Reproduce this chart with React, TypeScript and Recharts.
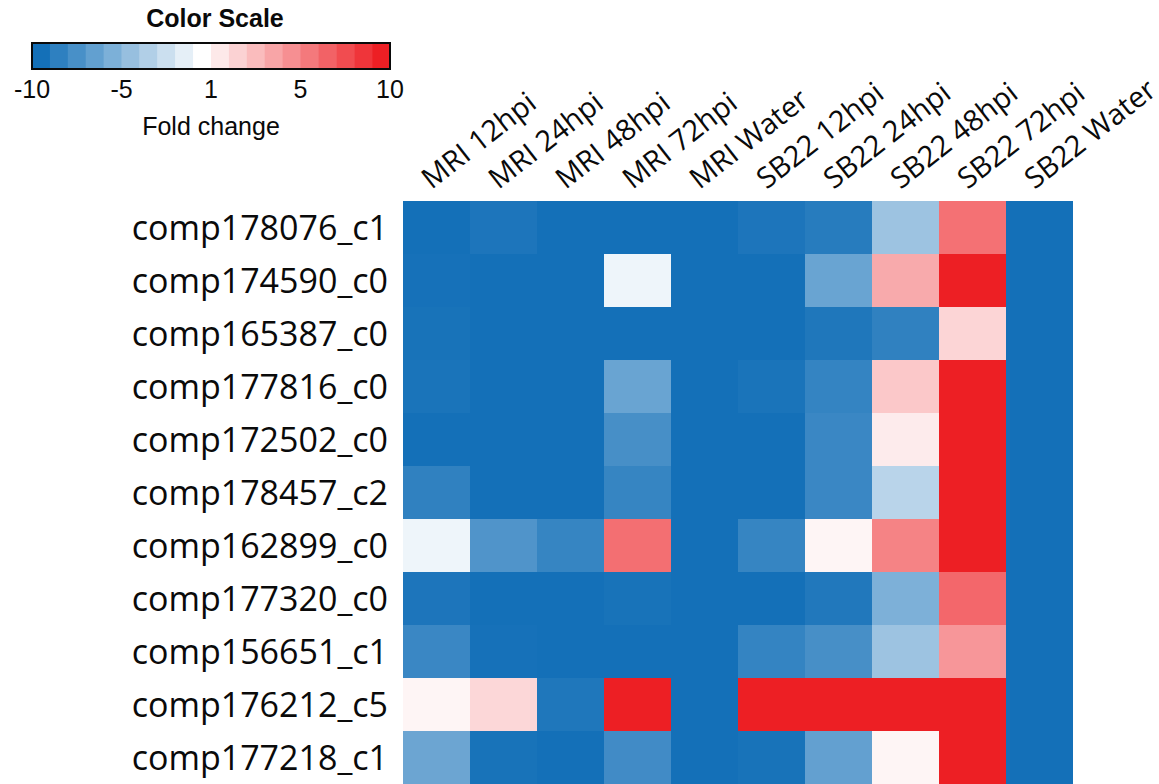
import { BarChart, Bar, Cell, XAxis, YAxis } from 'recharts';

const genes = [
  'comp178076_c1',
  'comp174590_c0',
  'comp165387_c0',
  'comp177816_c0',
  'comp172502_c0',
  'comp178457_c2',
  'comp162899_c0',
  'comp177320_c0',
  'comp156651_c1',
  'comp176212_c5',
  'comp177218_c1',
];

const conditions = [
  'MRI 12hpi',
  'MRI 24hpi',
  'MRI 48hpi',
  'MRI 72hpi',
  'MRI Water',
  'SB22 12hpi',
  'SB22 24hpi',
  'SB22 48hpi',
  'SB22 72hpi',
  'SB22 Water',
];

// fold change per condition, one value per gene (same order as genes)
const mri12 = [-10, -9.9, -9.8, -9.7, -10, -8.7, 0.2, -9.6, -8.2, 1.4, -5.9];
const mri24 = [-9.6, -10, -10, -10, -10, -10, -7.2, -10, -9.9, 2.6, -9.8];
const mri48 = [-10, -10, -10, -10, -10, -10, -8.4, -10, -10, -9.5, -10];
const mri72 = [-10, 0.2, -10, -6.0, -7.6, -8.4, 6.8, -9.8, -10, 10, -7.9];
const mriWater = [-10, -10, -10, -10, -10, -10, -10, -10, -10, -10, -10];
const sb12 = [-9.6, -10, -10, -9.7, -10, -10, -8.4, -10, -8.5, 10, -9.8];
const sb24 = [-9.1, -6.0, -9.5, -8.5, -8.2, -8.2, 1.4, -9.4, -7.6, 10, -6.3];
const sb48 = [-3.6, 4.4, -8.7, 3.2, 1.8, -2.3, 6.0, -5.1, -3.6, 10, 1.4];
const sb72 = [6.7, 10, 2.7, 10, 10, 10, 10, 7.1, 5.2, 10, 10];
const sbWater = [-10, -10, -10, -10, -10, -10, -10, -10, -10, -10, -10];

const series = [mri12, mri24, mri48, mri72, mriWater, sb12, sb24, sb48, sb72, sbWater];

const scaleTicks = ['-10', '-5', '1', '5', '10'];

const BLUE = [20, 112, 184];
const RED = [237, 31, 36];

function mix(c: number[], t: number) {
  const k = Math.max(0, Math.min(1, t));
  const ch = c.map((v) => Math.round(255 + (v - 255) * k));
  return `rgb(${ch[0]},${ch[1]},${ch[2]})`;
}

// -10 .. 1 .. 10  ->  blue .. white .. red
function foldColor(v: number) {
  if (v < 1) return mix(BLUE, (1 - v) / 11);
  return mix(RED, (v - 1) / 9);
}

const rows = genes.map((gene) => {
  const row: Record<string, string | number> = { gene };
  conditions.forEach((_, i) => {
    row[`c${i}`] = 1;
  });
  return row;
});

const labelFont = '"Open Sans", "Noto Sans", sans-serif';

function ConditionTick(props: any) {
  const { x, y, payload } = props;
  const name = conditions[Math.floor(payload.value)];
  const px = x - 5;
  const py = y - 3;
  return (
    <text
      x={px}
      y={py}
      transform={`rotate(-38 ${px} ${py})`}
      textAnchor="start"
      fontFamily={labelFont}
      fontSize={29}
      fill="#0a0a0a"
    >
      {name}
    </text>
  );
}

function ColorScale() {
  const left = 32;
  const right = 390;
  const blocks = 20;
  const w = (right - left) / blocks;
  const colors = Array.from({ length: blocks }, (_, i) => {
    if (i < 9) return mix(BLUE, (9 - i) / 9);
    if (i === 9) return '#ffffff';
    return mix(RED, (i - 9) / 10);
  });
  return (
    <svg
      width={420}
      height={150}
      style={{ position: 'absolute', left: 0, top: 0 }}
      fontFamily='"Liberation Sans", Arial, sans-serif'
    >
      <text x={215} y={27} textAnchor="middle" fontSize={25} fontWeight="bold" fill="#0a0a0a">
        Color Scale
      </text>
      {colors.map((c, i) => (
        <rect key={i} x={left + i * w} y={43} width={w + 0.5} height={26} fill={c} />
      ))}
      <rect x={left} y={43} width={right - left} height={26} fill="none" stroke="#0a0a0a" strokeWidth={2} />
      {scaleTicks.map((t, i) => (
        <text
          key={t}
          x={left + ((right - left) * i) / (scaleTicks.length - 1)}
          y={98}
          textAnchor="middle"
          fontSize={25}
          fill="#0a0a0a"
        >
          {t}
        </text>
      ))}
      <text x={211} y={135} textAnchor="middle" fontSize={25} fill="#0a0a0a">
        Fold change
      </text>
    </svg>
  );
}

export default function App() {
  return (
    <div
      style={{
        position: 'fixed',
        left: 0,
        top: 0,
        width: 1159,
        height: 784,
        overflow: 'hidden',
        background: '#fff',
      }}
    >
      <BarChart
        width={1159}
        height={784}
        data={rows}
        layout="vertical"
        margin={{ top: 171, right: 86, bottom: 0, left: 0 }}
        barCategoryGap={0}
        barGap={0}
      >
        <XAxis
          type="number"
          orientation="top"
          domain={[0, conditions.length]}
          ticks={conditions.map((_, i) => i + 0.5)}
          height={30}
          axisLine={false}
          tickLine={false}
          interval={0}
          tick={<ConditionTick />}
        />
        <YAxis
          type="category"
          dataKey="gene"
          width={403}
          axisLine={false}
          tickLine={false}
          tickMargin={9}
          interval={0}
          tick={{ fontFamily: labelFont, fontSize: 34, fill: '#0a0a0a' }}
        />
        {conditions.map((cond, ci) => (
          <Bar key={cond} dataKey={`c${ci}`} stackId="heat" isAnimationActive={false}>
            {genes.map((g, gi) => (
              <Cell key={g} fill={foldColor(series[ci][gi])} />
            ))}
          </Bar>
        ))}
      </BarChart>
      <ColorScale />
    </div>
  );
}
